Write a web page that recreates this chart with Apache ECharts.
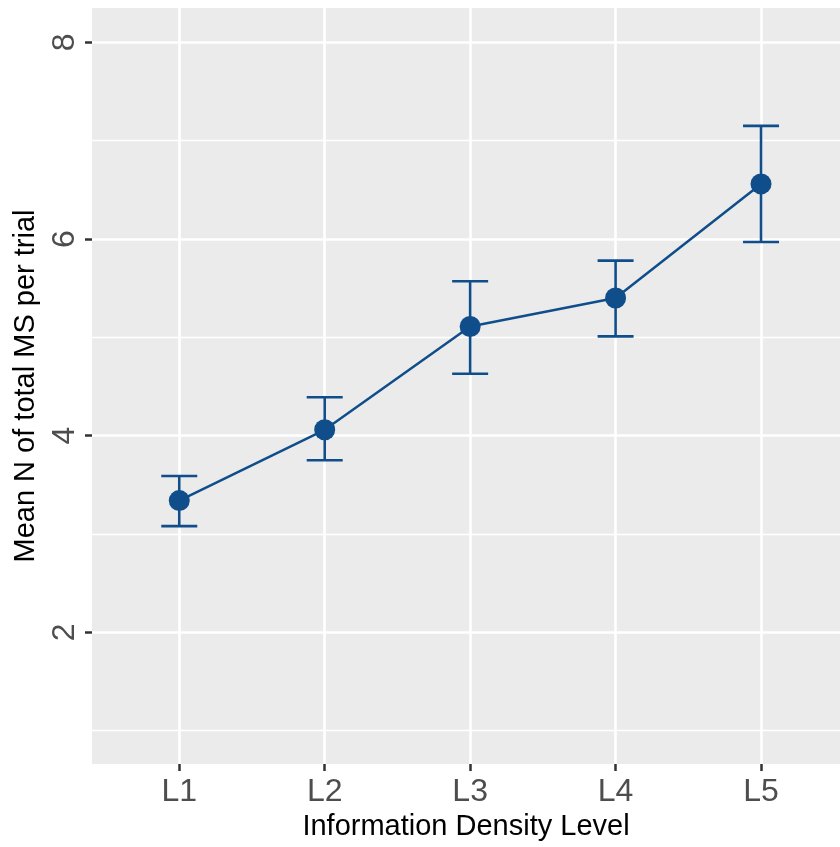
<!DOCTYPE html>
<html>
<head>
<meta charset="utf-8">
<script src="https://cdn.jsdelivr.net/npm/echarts@6/dist/echarts.min.js"></script>
<style>
  html, body { margin: 0; padding: 0; background: #fff; }
  #chart { width: 840px; height: 847px; }
</style>
</head>
<body>
<div id="chart"></div>
<script>
// data
var categories = ['L1', 'L2', 'L3', 'L4', 'L5'];
var meanValues = [3.34, 4.06, 5.11, 5.40, 6.56];
var lowerValues = [3.08, 3.75, 4.63, 5.01, 5.97];
var upperValues = [3.59, 4.39, 5.57, 5.78, 7.15];
var xPositions = [1, 2, 3, 4, 5];
var yMajorTicks = [2, 4, 6, 8];
var yMinorTicks = [1, 3, 5, 7];

window.onload = function () {
    var chart = echarts.init(document.getElementById('chart'));
    var color = '#104E8B';
    var font = 'Liberation Sans, Arial, sans-serif';

    var points = xPositions.map(function (x, i) { return [x, meanValues[i]]; });
    var bars = xPositions.map(function (x, i) { return [x, lowerValues[i], upperValues[i]]; });

    var yMin = 0.661, yMax = 8.349;

    var option = {
        backgroundColor: '#ffffff',
        animation: false,
        grid: {
            left: 92, right: 0, top: 8, bottom: 83,
            show: true, backgroundColor: '#EBEBEB', borderWidth: 0
        },
        xAxis: {
            type: 'value',
            min: 0.4, max: 5.543,
            name: 'Information Density Level',
            nameLocation: 'middle',
            nameGap: 47,
            nameTextStyle: { fontFamily: font, fontSize: 29, color: '#000' },
            axisLine: { show: false },
            axisTick: { show: true, customValues: xPositions, length: 7, lineStyle: { color: '#333', width: 2.5 } },
            axisLabel: {
                customValues: xPositions,
                margin: 12,
                fontFamily: font, fontSize: 32, color: '#4D4D4D',
                formatter: function (v) { return categories[Math.round(v) - 1] || ''; }
            },
            splitLine: { show: true, lineStyle: { color: '#fff', width: 2.6 } }
        },
        yAxis: [{
            type: 'value',
            min: yMin, max: yMax,
            name: 'Mean N of total MS per trial',
            nameLocation: 'middle',
            nameGap: 52,
            nameRotate: 90,
            nameTextStyle: { fontFamily: font, fontSize: 29, color: '#000' },
            axisLine: { show: false },
            axisTick: { show: true, customValues: yMajorTicks, length: 7, lineStyle: { color: '#333', width: 2.5 } },
            axisLabel: {
                customValues: yMajorTicks,
                rotate: 90,
                margin: 11,
                fontFamily: font, fontSize: 32, color: '#4D4D4D'
            },
            splitLine: { show: true, lineStyle: { color: '#fff', width: 2.6 } }
        }, {
            // minor grid lines
            type: 'value',
            position: 'left',
            min: yMin, max: yMax,
            axisLine: { show: false },
            axisTick: { show: false, customValues: yMinorTicks },
            axisLabel: { show: false, customValues: yMinorTicks },
            splitLine: { show: true, lineStyle: { color: '#fff', width: 1.3 } }
        }],
        series: [{
            type: 'custom',
            z: 2,
            data: bars,
            renderItem: function (params, api) {
                var x = api.value(0);
                var top = api.coord([x, api.value(2)]);
                var bot = api.coord([x, api.value(1)]);
                var hw = 18;
                var st = { stroke: color, lineWidth: 2.6 };
                return {
                    type: 'group',
                    children: [
                        { type: 'line', shape: { x1: top[0], y1: top[1], x2: bot[0], y2: bot[1] }, style: st },
                        { type: 'line', shape: { x1: top[0] - hw, y1: top[1], x2: top[0] + hw, y2: top[1] }, style: st },
                        { type: 'line', shape: { x1: bot[0] - hw, y1: bot[1], x2: bot[0] + hw, y2: bot[1] }, style: st }
                    ]
                };
            }
        }, {
            type: 'line',
            z: 3,
            data: points,
            symbol: 'circle',
            symbolSize: 21,
            itemStyle: { color: color },
            lineStyle: { color: color, width: 2.5 }
        }]
    };
    chart.setOption(option);
};
</script>
</body>
</html>
